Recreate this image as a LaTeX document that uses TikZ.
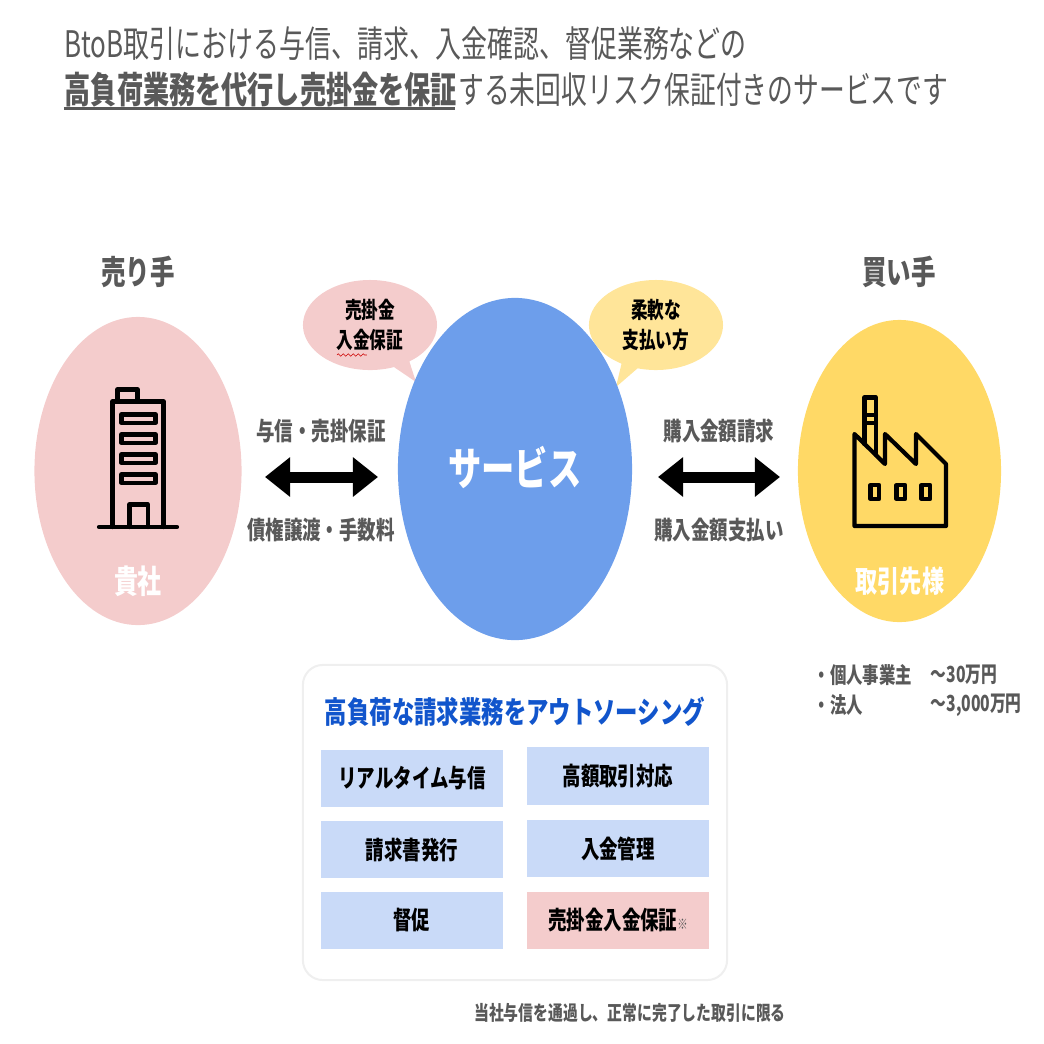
\documentclass[tikz,border=0pt]{standalone}
\usepackage{fontspec}
\setmainfont{Noto Sans CJK JP}
\usepackage{graphicx}
\usetikzlibrary{arrows.meta}
\usetikzlibrary{shapes.geometric}
\usetikzlibrary{shapes.callouts}
\usetikzlibrary{decorations.pathmorphing}

\definecolor{txtgray}{HTML}{595959}
\definecolor{sellerpink}{HTML}{F4CCCC}
\definecolor{buyeryellow}{HTML}{FFD966}
\definecolor{bubbleyellow}{HTML}{FFE599}
\definecolor{serviceblue}{HTML}{6D9EEB}
\definecolor{boxblue}{HTML}{C9DAF8}
\definecolor{headblue}{HTML}{1155CC}
\definecolor{panelline}{HTML}{EFEFEF}

% all text is narrowed
\newcommand{\sq}[2][0.74]{\scalebox{#1}[1]{#2}}
\tikzset{
	blob/.style={ellipse, inner sep=0pt, outer sep=0pt},
	bubble/.style={ellipse callout, inner sep=0pt, outer sep=0pt, minimum width=1.34cm, minimum height=0.90cm, align=center, text=black, font=\fontsize{6.4}{8.0}\selectfont\bfseries},
	head/.style={inner sep=0pt, text=txtgray, font=\fontsize{9.4}{11}\selectfont\bfseries},
	flowtxt/.style={inner sep=0pt, text=txtgray, font=\fontsize{7.1}{9}\selectfont\bfseries},
	notetxt/.style={inner sep=0pt, text=txtgray, font=\fontsize{6.3}{8}\selectfont\bfseries},
	titletxt/.style={inner sep=0pt, anchor=west, text=txtgray, font=\fontsize{10.4}{12}\selectfont},
	taskbox/.style={fill=boxblue, inner sep=0pt, minimum width=1.82cm, minimum height=0.575cm, text=black, font=\fontsize{7.1}{9}\selectfont\bfseries},
	bigarrow/.style={<->, >={Triangle[length=0.25cm,width=0.38cm]}, line width=0.11cm},
	icon/.style={line width=0.042cm, line join=round, line cap=round},
}

\begin{document}
\begin{tikzpicture}[x=0.01cm, y=-0.01cm]
	\useasboundingbox (0,0) rectangle (1044,1044);

	\node [titletxt] (title1) at (64,44) {\sq[0.71]{BtoB取引における与信、請求、入金確認、督促業務などの}};
	\node [titletxt, font=\fontsize{10.4}{12}\selectfont\bfseries] (title2) at (64,90) {\sq[0.715]{高負荷業務を代行し売掛金を保証}};
	\node [titletxt] (title3) at (title2.east) {\sq[0.705]{する未回収リスク保証付きのサービスです}};
	\coordinate (ulineA) at (64,108);
	\coordinate (ulineB) at (455,108);
	\draw [txtgray, line width=0.03cm] (ulineA) -- (ulineB);

	\node [head] (sellerhead) at (138,272) {\sq{売り手}};
	\node [head] (buyerhead) at (899,272) {\sq{買い手}};

	\node [blob, fill=sellerpink, minimum width=2.07cm, minimum height=3.08cm] (seller) at (138,471) {};
	\node [blob, fill=buyeryellow, minimum width=2.03cm, minimum height=3.02cm] (buyer) at (899.5,471) {};

	\node [bubble, fill=sellerpink, callout absolute pointer={(416,382)}] (bubbleL) at (370,325) {\sq{売掛金}\\[0.4pt]\sq{入金保証}};
	\node [bubble, fill=bubbleyellow, callout absolute pointer={(616,387)}] (bubbleR) at (656,325) {\sq{柔軟な}\\[0.4pt]\sq{支払い方}};
	\coordinate (wavyA) at (337,355);
	\coordinate (wavyB) at (367,355);
	\draw [red!80!black, line width=0.006cm, decorate, decoration={zigzag, amplitude=0.012cm, segment length=0.05cm}] (wavyA) -- (wavyB);

	\node [blob, fill=serviceblue, minimum width=2.34cm, minimum height=3.42cm] (service) at (515,469) {};
	\node [inner sep=0pt, text=white, font=\fontsize{12.8}{15}\selectfont\bfseries] (servicetxt) at (515,467) {\sq{サービス}};

	\node [inner sep=0pt, text=white, font=\fontsize{9.2}{11}\selectfont\bfseries] (sellertxt) at (138,581) {\sq{貴社}};
	\node [inner sep=0pt, text=white, font=\fontsize{8.5}{10}\selectfont\bfseries] (buyertxt) at (900,581) {\sq{取引先様}};

	% building
	\draw [icon] (112.5,527) -- (112.5,401.5) -- (163.5,401.5) -- (163.5,527);
	\draw [icon] (99,527) -- (177,527);
	\draw [icon] (117.5,401.5) -- (117.5,389.5) -- (137.5,389.5) -- (137.5,401.5);
	\foreach \y in {414.5,434.5,454.5,474.5}
		\draw [icon] (121.5,\y) rectangle (155.5,\y+8.5);
	\draw [icon] (129.5,527) -- (129.5,504.5) -- (148,504.5) -- (148,527);

	% factory
	\draw [icon] (854.5,526) -- (854.5,434) -- (885,464) -- (885,434) -- (916,464) -- (916,434) -- (946,464) -- (946,526) -- cycle;
	\draw [icon] (864.5,444) -- (864.5,397.5) -- (876,397.5) -- (876,455);
	\draw [icon] (864.5,415) -- (876,415);
	\draw [icon] (864.5,423) -- (876,423);
	\foreach \x in {870.5,896.5,921.5}
		\draw [icon] (\x,485) rectangle (\x+8.5,499);

	% arrows
	\node [flowtxt] (flowL1) at (321,431) {\sq{与信・売掛保証}};
	\node [flowtxt] (flowL2) at (321,530) {\sq{債権譲渡・手数料}};
	\node [flowtxt] (flowR1) at (719,431) {\sq{購入金額請求}};
	\node [flowtxt] (flowR2) at (719,530) {\sq{購入金額支払い}};
	\coordinate (arrowLa) at (265,477);
	\coordinate (arrowLb) at (378,477);
	\coordinate (arrowRa) at (658,477);
	\coordinate (arrowRb) at (780,477);
	\draw [bigarrow] (arrowLa) -- (arrowLb);
	\draw [bigarrow] (arrowRa) -- (arrowRb);

	\node [notetxt, anchor=west] (limit1) at (813,675) {\sq{・個人事業主}};
	\node [notetxt, anchor=west] (limit2) at (930,675) {\sq[0.71]{〜30万円}};
	\node [notetxt, anchor=west] (limit3) at (813,705) {\sq{・法人}};
	\node [notetxt, anchor=west] (limit4) at (930,705) {\sq[0.71]{〜3,000万円}};

	% outsourcing panel
	\node [draw=panelline, line width=0.02cm, rounded corners=0.2cm, fill=white, minimum width=4.24cm, minimum height=3.15cm] (panel) at (515,822.5) {};
	\node [inner sep=0pt, text=headblue, font=\fontsize{8.6}{10}\selectfont\bfseries] (paneltitle) at (515,712) {\sq{高負荷な請求業務をアウトソーシング}};
	\node [taskbox] (taskA) at (412,778.5) {\sq{リアルタイム与信}};
	\node [taskbox] (taskB) at (618,776) {\sq{高額取引対応}};
	\node [taskbox] (taskC) at (412,849.5) {\sq{請求書発行}};
	\node [taskbox] (taskD) at (618,848.5) {\sq{入金管理}};
	\node [taskbox] (taskE) at (412,920.5) {\sq{督促}};
	\node [taskbox, fill=sellerpink] (taskF) at (618,920.5) {\sq{売掛金入金保証{\fontsize{4}{5}\selectfont\color{txtgray}※}}};

	\node [notetxt, font=\fontsize{5.7}{7}\selectfont\bfseries] (footnote) at (630,1013) {\sq{当社与信を通過し、正常に完了した取引に限る}};
\end{tikzpicture}
\end{document}
